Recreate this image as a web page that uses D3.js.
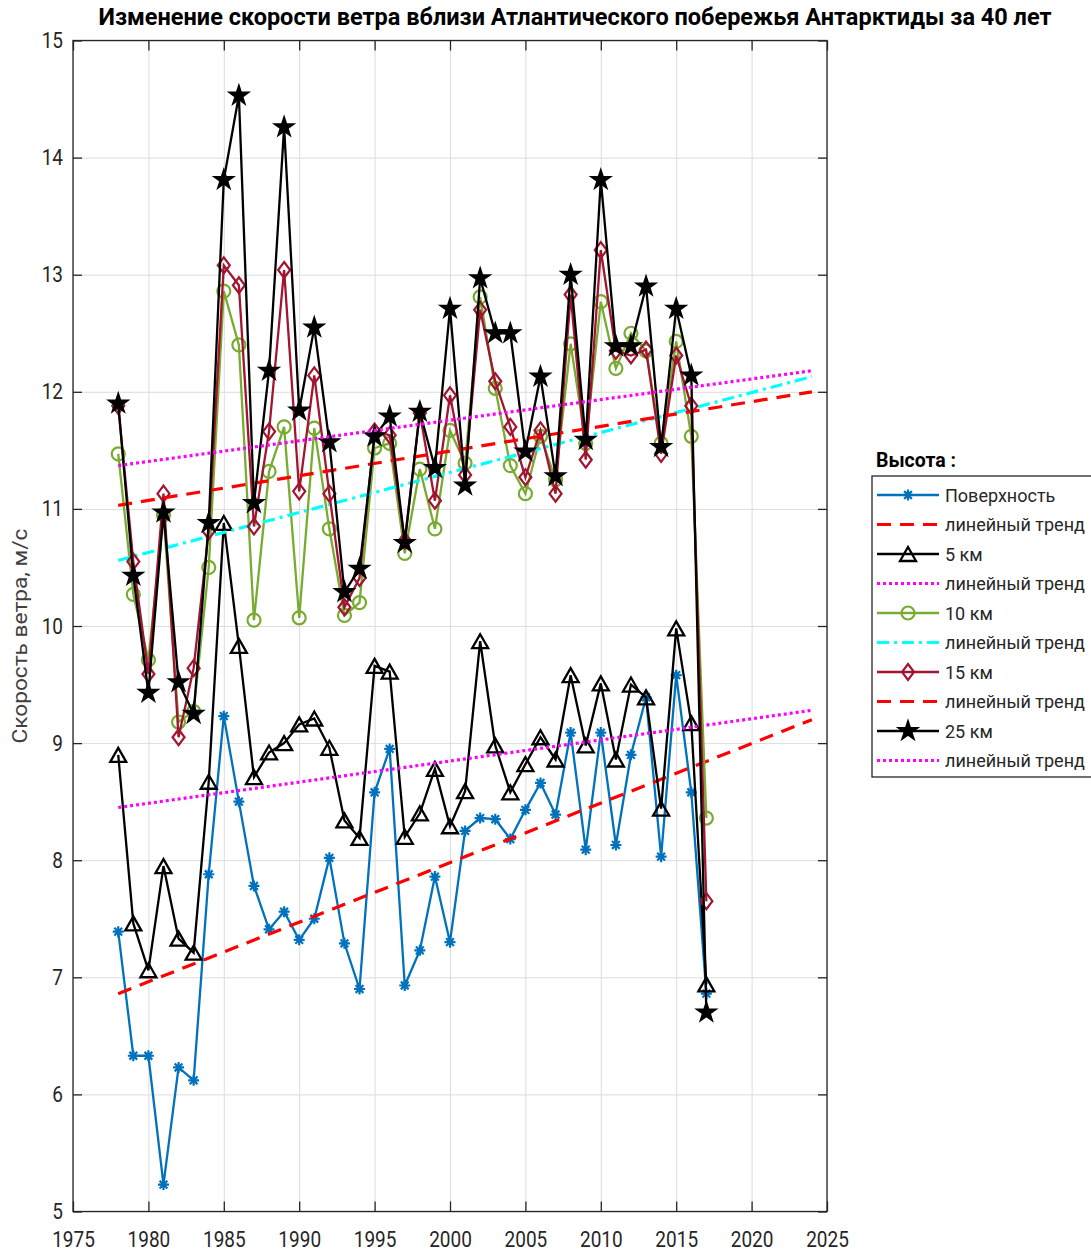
<!DOCTYPE html>
<html>
<head>
<meta charset="utf-8">
<script src="https://cdn.jsdelivr.net/npm/d3@7"></script>
<style>
  body { margin: 0; background: #fff; }
  svg { display: block; font-family: Roboto, "Liberation Sans", sans-serif; }
</style>
</head>
<body>
<svg id="chart" width="1091" height="1252"></svg>
<script>

// years 1978..2017
var years = [1978,1979,1980,1981,1982,1983,1984,1985,1986,1987,
             1988,1989,1990,1991,1992,1993,1994,1995,1996,1997,
             1998,1999,2000,2001,2002,2003,2004,2005,2006,2007,
             2008,2009,2010,2011,2012,2013,2014,2015,2016,2017];

var surface = [7.39,6.33,6.33,5.23,6.23,6.12,7.88,9.23,8.50,7.78,
               7.41,7.56,7.32,7.50,8.02,7.29,6.90,8.58,8.95,6.93,
               7.23,7.86,7.30,8.25,8.36,8.35,8.18,8.43,8.66,8.39,
               9.09,8.09,9.09,8.13,8.90,9.39,8.03,9.58,8.58,6.86];

var km5 = [8.90,7.46,7.06,7.95,7.33,7.21,8.67,10.88,9.83,8.71,
           8.92,9.00,9.16,9.21,8.96,8.34,8.19,9.66,9.61,8.20,
           8.40,8.78,8.29,8.59,9.87,8.98,8.58,8.82,9.05,8.86,
           9.58,8.98,9.51,8.86,9.50,9.39,8.44,9.98,9.17,6.94];

var km10 = [11.47,10.27,9.71,10.95,9.18,9.27,10.50,12.86,12.40,10.05,
            11.32,11.70,10.07,11.69,10.83,10.09,10.20,11.52,11.56,10.62,
            11.34,10.83,11.67,11.39,12.81,12.03,11.37,11.13,11.62,11.25,
            12.41,11.56,12.77,12.20,12.50,12.35,11.56,12.43,11.62,8.36];

var km15 = [11.88,10.55,9.59,11.13,9.05,9.64,10.81,13.08,12.91,10.85,
            11.66,13.04,11.15,12.14,11.13,10.16,10.41,11.66,11.63,10.73,
            11.82,11.07,11.97,11.29,12.70,12.09,11.70,11.27,11.67,11.13,
            12.83,11.42,13.21,12.35,12.31,12.36,11.47,12.31,11.88,7.65];

var km25 = [11.90,10.43,9.43,10.97,9.52,9.25,10.88,13.81,14.53,11.05,
            12.18,14.26,11.84,12.55,11.57,10.29,10.49,11.62,11.79,10.71,
            11.83,11.35,12.71,11.20,12.97,12.50,12.50,11.49,12.13,11.28,
            13.00,11.59,13.81,12.39,12.39,12.90,11.53,12.71,12.14,6.70];

// linear trends, value at first and last year
var trendYears = [1978, 2024];
var surfaceTrend = [6.86, 9.20];
var km5Trend = [8.45, 9.28];
var km10Trend = [10.56, 12.13];
var km15Trend = [11.03, 12.00];
var km25Trend = [11.37, 12.18];

var xTicks = [1975,1980,1985,1990,1995,2000,2005,2010,2015,2020,2025];
var yTicks = [5,6,7,8,9,10,11,12,13,14,15];

var legendLabels = ['Поверхность','линейный тренд','5 км','линейный тренд','10 км',
                    'линейный тренд','15 км','линейный тренд','25 км','линейный тренд'];

var svg = d3.select('#chart');
var mLeft = 73, mTop = 40.5, mRight = 827, mBottom = 1211.5;
var stretch = 1.2;   // tick digits look a bit taller than wide

var x = d3.scaleLinear().domain([1975, 2025]).range([mLeft, mRight]);
var y = d3.scaleLinear().domain([5, 15]).range([mBottom, mTop]);

// grid
svg.append('g')
  .attr('transform', 'translate(0,' + mBottom + ')')
  .call(d3.axisBottom(x).tickValues(xTicks).tickSize(-(mBottom - mTop)).tickFormat(''))
  .call(g => g.select('.domain').remove())
  .call(g => g.selectAll('line').attr('stroke', '#dcdcdc').attr('stroke-width', 1));
svg.append('g')
  .attr('transform', 'translate(' + mLeft + ',0)')
  .call(d3.axisLeft(y).tickValues(yTicks).tickSize(-(mRight - mLeft)).tickFormat(''))
  .call(g => g.select('.domain').remove())
  .call(g => g.selectAll('line').attr('stroke', '#dcdcdc').attr('stroke-width', 1));

// markers
function asterisk(r) {
  var d = r * 0.707;
  return 'M' + (-r) + ',0L' + r + ',0M0,' + (-r) + 'L0,' + r +
         'M' + (-d) + ',' + (-d) + 'L' + d + ',' + d + 'M' + (-d) + ',' + d + 'L' + d + ',' + (-d);
}
function triangle(w, h) {
  return 'M0,' + (-h / 2) + 'L' + (w / 2) + ',' + (h / 2) + 'L' + (-w / 2) + ',' + (h / 2) + 'Z';
}
function diamond(w, h) {
  return 'M0,' + (-h / 2) + 'L' + (w / 2) + ',0L0,' + (h / 2) + 'L' + (-w / 2) + ',0Z';
}
var starPath = d3.symbol(d3.symbolStar, 110)();

var series = [
  {values: surface, trend: surfaceTrend, color: '#0072BD', marker: asterisk(5.5), fill: 'none', mw: 2.2,
   tcolor: '#FF0000', dash: '14,9'},
  {values: km5, trend: km5Trend, color: '#000000', marker: triangle(16, 14), fill: 'none', mw: 2.3,
   tcolor: '#FF00FF', dash: '3,3'},
  {values: km10, trend: km10Trend, color: '#77AC30', marker: 'circle', fill: 'none', mw: 2.2,
   tcolor: '#00FFFF', dash: '12,5,3,5'},
  {values: km15, trend: km15Trend, color: '#A2142F', marker: diamond(12, 16), fill: 'none', mw: 2.2,
   tcolor: '#FF0000', dash: '14,9'},
  {values: km25, trend: km25Trend, color: '#000000', marker: starPath, fill: '#000000', mw: 1.8,
   tcolor: '#FF00FF', dash: '3,3'}
];

var line = d3.line().x(d => x(d[0])).y(d => y(d[1]));

function drawMarker(g, s, px, py) {
  if (s.marker == 'circle') {
    g.append('circle').attr('cx', px).attr('cy', py).attr('r', 6.5)
      .attr('fill', 'none').attr('stroke', s.color).attr('stroke-width', s.mw);
  } else {
    g.append('path').attr('d', s.marker).attr('transform', 'translate(' + px + ',' + py + ')')
      .attr('fill', s.fill).attr('stroke', s.color).attr('stroke-width', s.mw)
      .attr('stroke-linejoin', 'miter');
  }
}

var plot = svg.append('g');
series.forEach(function(s) {
  var pts = years.map((yr, i) => [yr, s.values[i]]);
  plot.append('path').datum(pts).attr('d', line)
    .attr('fill', 'none').attr('stroke', s.color).attr('stroke-width', 2.3);
  var mg = plot.append('g');
  pts.forEach(p => drawMarker(mg, s, x(p[0]), y(p[1])));

  var tpts = trendYears.map((yr, i) => [yr, s.trend[i]]);
  plot.append('path').datum(tpts).attr('d', line)
    .attr('fill', 'none').attr('stroke', s.tcolor).attr('stroke-width', 3.2)
    .attr('stroke-dasharray', s.dash);
});

// box + inward ticks
var axisColor = '#262626';
svg.append('rect').attr('x', mLeft).attr('y', mTop).attr('width', mRight - mLeft).attr('height', mBottom - mTop)
  .attr('fill', 'none').attr('stroke', axisColor).attr('stroke-width', 1.3);

function styleAxis(g) {
  g.select('.domain').remove();
  g.selectAll('line').attr('stroke', axisColor).attr('stroke-width', 1.3);
}
svg.append('g').attr('transform', 'translate(0,' + mBottom + ')')
  .call(d3.axisBottom(x).tickValues(xTicks).tickSize(-10).tickFormat('')).call(styleAxis);
svg.append('g').attr('transform', 'translate(0,' + mTop + ')')
  .call(d3.axisTop(x).tickValues(xTicks).tickSize(-10).tickFormat('')).call(styleAxis);
svg.append('g').attr('transform', 'translate(' + mLeft + ',0)')
  .call(d3.axisLeft(y).tickValues(yTicks).tickSize(-9).tickFormat('')).call(styleAxis);
svg.append('g').attr('transform', 'translate(' + mRight + ',0)')
  .call(d3.axisRight(y).tickValues(yTicks).tickSize(-9).tickFormat('')).call(styleAxis);

// tick labels
svg.append('g').attr('transform', 'translate(0,' + mBottom + ')')
  .call(d3.axisBottom(x).tickValues(xTicks).tickSize(0).tickPadding(0).tickFormat(d3.format('d')))
  .call(g => g.select('.domain').remove())
  .call(g => g.selectAll('text').attr('y', 0).attr('dy', null)
    .attr('transform', 'translate(0,35) scale(1,' + stretch + ')')
    .attr('font-size', 19).attr('fill', axisColor).attr('font-family', 'Roboto'));
svg.append('g').attr('transform', 'translate(' + mLeft + ',0)')
  .call(d3.axisLeft(y).tickValues(yTicks).tickSize(0).tickPadding(0))
  .call(g => g.select('.domain').remove())
  .call(g => g.selectAll('text').attr('x', 0).attr('dy', null).attr('y', 0)
    .attr('transform', 'translate(-10,7) scale(1,' + stretch + ')')
    .attr('font-size', 19).attr('fill', axisColor).attr('font-family', 'Roboto'));

// axis label
svg.append('text')
  .attr('transform', 'translate(27,636) rotate(-90) scale(1.08,1)')
  .attr('text-anchor', 'middle')
  .attr('font-size', 21).attr('fill', '#404040')
  .text('Скорость ветра, м/с');

// title
svg.append('text')
  .attr('x', 575).attr('y', 25)
  .attr('text-anchor', 'middle')
  .attr('font-size', 23.5).attr('font-weight', 'bold').attr('fill', '#000')
  .text('Изменение скорости ветра вблизи Атлантического побережья Антарктиды за 40 лет');

// legend
var lg = svg.append('g');
lg.append('text')
  .attr('x', 876).attr('y', 467)
  .attr('font-size', 19.5).attr('font-weight', 'bold').attr('fill', '#000')
  .text('Высота :');
lg.append('rect').attr('x', 872).attr('y', 476).attr('width', 240).attr('height', 301)
  .attr('fill', '#fff').attr('stroke', axisColor).attr('stroke-width', 1.3);

legendLabels.forEach(function(label, i) {
  var ly = 495 + i * 29.5;
  var s = series[Math.floor(i / 2)];
  if (i % 2 == 0) {
    lg.append('line').attr('x1', 877).attr('x2', 939).attr('y1', ly).attr('y2', ly)
      .attr('stroke', s.color).attr('stroke-width', 2.3);
    drawMarker(lg, s, 908, ly);
  } else {
    lg.append('line').attr('x1', 877).attr('x2', 939).attr('y1', ly).attr('y2', ly)
      .attr('stroke', s.tcolor).attr('stroke-width', 3.2).attr('stroke-dasharray', s.dash);
  }
  lg.append('text')
    .attr('x', 945).attr('y', ly + 6.5)
    .attr('font-size', 18).attr('fill', axisColor)
    .text(label);
});

</script>
</body>
</html>
